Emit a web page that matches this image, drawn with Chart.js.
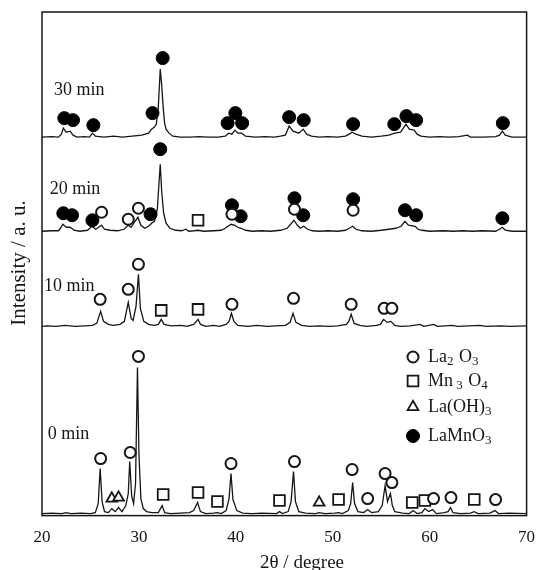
<!DOCTYPE html>
<html>
<head>
<meta charset="utf-8">
<script src="https://cdn.jsdelivr.net/npm/chart.js@4.4.1/dist/chart.umd.min.js"></script>
<style>
  html, body { margin: 0; padding: 0; background: #fff; }
  #wrap { width: 536px; height: 570px; }
</style>
</head>
<body>
<div id="wrap"><canvas id="xrdChart" width="536" height="570"></canvas></div>
<script>
// x axis (2theta, degree)
const xTicks = [20, 30, 40, 50, 60, 70];

// patterns, bottom to top, and the vertical offset of each baseline (a.u.)
const patternNames = ['0 min', '10 min', '20 min', '30 min'];
const baselineOffsets = [2, 189, 284, 378];
const nameX = [20.6, 20.2, 20.8, 21.25];
const nameY = [79, 40, 42, 47];

// traces: [2theta, intensity above baseline]
const trace0 = [[20,0],[21,0.5],[22,0],[22.5,1],[23,0],[24,0.5],[25,0],[25.5,1],[25.8,10],[26.0,45],[26.2,12],[26.45,2],[26.85,1],[27.2,5],[27.55,2],[27.9,6],[28.25,2],[28.65,8],[28.9,20],[29.05,52],[29.25,18],[29.45,10],[29.65,30],[29.85,146],[30.0,60],[30.2,15],[30.45,5],[30.8,2],[31.3,1],[32.0,1],[32.4,8],[32.65,1],[33.3,0],[34.3,0.5],[35.2,1],[35.65,3],[36.05,11],[36.35,2],[36.9,0],[37.7,0.5],[38.1,1],[38.5,0],[39.0,3],[39.3,15],[39.5,40],[39.7,14],[40.1,3],[40.7,0.5],[41.7,0],[42.7,0.5],[44.2,0],[44.5,2],[44.8,0],[45.4,2],[45.7,12],[45.95,42],[46.15,12],[46.5,2],[47.2,0.5],[48.2,0],[48.6,1],[49.2,0],[50.2,0.5],[50.6,1],[51.0,0],[51.6,3],[51.85,10],[52.05,31],[52.25,10],[52.6,2],[53.2,1],[53.6,4],[54.0,1],[54.7,2],[55.1,8],[55.4,28],[55.65,12],[55.95,20],[56.15,8],[56.4,2],[57.2,0.5],[57.9,0],[58.3,3],[58.7,0],[59.2,1],[59.5,5],[59.9,2],[60.3,4],[60.7,0],[61.5,1],[61.9,2],[62.15,6],[62.4,1],[63.2,0],[64.2,0.5],[64.6,2],[65.0,0],[66.2,0.5],[66.75,3],[67.1,0],[68.2,0.5],[70,0]];
const trace10 = [[20,0],[20.5,0.5],[21.4,0],[22.4,1],[23.4,0],[24.4,0.5],[25.2,1],[25.65,3],[26.05,15],[26.35,5],[26.85,2],[27.35,1],[28.05,2],[28.5,5],[28.9,24],[29.2,8],[29.4,6],[29.7,20],[29.95,52],[30.15,18],[30.5,5],[31.0,2],[31.6,1],[32.0,2],[32.3,7],[32.6,2],[33.3,0.5],[34.3,1],[34.95,0],[35.65,2],[36.1,7],[36.35,2],[36.9,0],[37.7,1],[38.3,0],[39.0,2],[39.3,5],[39.55,13],[39.8,5],[40.2,1],[41.2,0],[42.2,1],[43.2,0],[44.1,0.5],[45.1,1],[45.6,4],[45.9,13],[46.2,4],[46.8,1],[47.6,0],[48.6,0.5],[49.6,0],[50.5,0.5],[51.4,2],[51.65,5],[51.9,12],[52.2,3],[52.8,1],[53.5,0],[54.5,1],[54.9,2],[55.25,7],[55.6,4],[56.0,5],[56.4,1],[57,0],[58,0.5],[59.0,2],[59.4,0],[60.4,2],[60.8,0],[62.3,1],[62.9,0],[65.2,1],[65.8,0],[67.3,0.5],[68.3,0],[70,0.5]];
const trace20 = [[20,0],[21,0.5],[21.7,0.5],[21.9,3],[22.15,7],[22.5,4],[22.9,4],[23.3,1],[23.9,0],[24.7,1],[25.15,5],[25.55,2],[25.85,4],[26.15,6],[26.45,2],[27.0,1],[27.8,0.5],[28.45,2],[28.9,6],[29.2,4],[29.6,10],[29.9,14],[30.2,6],[30.6,3],[31.0,5],[31.3,8],[31.6,10],[31.9,22],[32.05,45],[32.2,67],[32.35,40],[32.55,18],[32.8,8],[33.2,3],[33.8,1],[34.4,0.5],[34.85,2],[35.15,0],[35.7,0.5],[36.1,1],[36.7,0],[37.7,0.5],[38.5,1],[38.9,3],[39.5,7],[39.9,6],[40.2,4],[40.55,3],[41.0,1],[41.7,0],[42.7,0.5],[43.6,0],[44.6,1],[45.3,3],[46.0,11],[46.35,6],[46.65,3],[47.0,5],[47.4,2],[47.9,0.5],[48.6,0],[49.5,0.5],[50.5,0],[51.3,1],[51.7,3],[52.05,5],[52.4,2],[53,0.5],[54,0],[55,1],[55.8,2],[56.5,3],[57.05,5],[57.45,10],[57.8,6],[58.5,5],[58.8,2],[59.2,1],[60,0],[61.4,0.5],[62.4,0],[63.4,0.5],[64.4,0],[65.4,0.5],[66.8,0],[67.2,2],[67.5,4],[67.8,1],[68.5,0],[70,0]];
const trace30 = [[20,0],[21,0.5],[21.7,0],[22.0,3],[22.2,9],[22.5,5],[22.9,6],[23.2,2],[23.6,0],[24.4,0.5],[24.9,0],[25.2,4],[25.5,1],[26.4,0],[27.4,1],[28.3,0],[29.3,1],[30.3,2],[31.0,4],[31.3,8],[31.6,10],[31.8,13],[32.0,30],[32.2,68],[32.35,52],[32.5,30],[32.65,14],[32.8,8],[33.1,4],[33.5,1],[34.3,0],[35.3,0],[36.2,0.5],[37.2,0],[38.2,0],[38.9,1],[39.25,4],[39.6,3],[39.9,7],[40.2,4],[40.6,4],[41.0,1],[42,0],[43,0.5],[44,0],[44.6,1],[45.1,2],[45.5,11],[45.9,6],[46.5,4],[46.95,8],[47.3,3],[47.8,1],[48.6,0],[49.5,0.5],[50.5,0],[51.3,1],[51.7,3],[52.0,5],[52.4,3],[53.0,1],[54,0],[55,1],[55.8,2],[56.4,4],[57.0,5],[57.55,13],[57.9,8],[58.4,7],[58.7,3],[59.1,1],[60,0],[61,0.5],[62,0],[63,0.5],[63.9,2],[64.2,0],[65.5,0],[66.8,0.5],[67.2,2],[67.5,6],[67.8,2],[68.5,0],[70,0]];

// phase markers: [2theta, height above baseline]
const la2o3_0 = [[26.05,55],[29.1,61],[29.95,157],[39.5,50],[46.05,52],[52.0,44],[53.6,15],[55.4,40],[56.1,31],[60.4,15],[62.2,16],[66.8,14]];
const la2o3_10 = [[26.0,27],[28.9,37],[29.95,62],[39.6,22],[45.95,28],[51.9,22],[55.3,18],[56.1,18]];
const la2o3_20 = [[26.15,19],[28.9,12],[29.95,23],[39.6,17],[46.05,22],[52.1,21]];
const mn3o4_0 = [[32.5,19],[36.1,21],[38.1,12],[44.5,13],[50.6,14],[58.2,11],[59.5,13],[64.6,14]];
const mn3o4_10 = [[32.3,16],[36.1,17]];
const mn3o4_20 = [[36.1,11]];
const laoh3_0 = [[27.2,15],[27.9,16],[48.6,11]];
const lamno3_20 = [[22.2,18],[23.1,16],[25.2,11],[31.2,17],[32.2,82],[39.6,26],[40.5,15],[46.05,33],[46.95,16],[52.1,32],[57.45,21],[58.6,16],[67.5,13]];
const lamno3_30 = [[22.3,19],[23.2,17],[25.3,12],[31.4,24],[32.45,79],[39.15,14],[39.95,24],[40.65,14],[45.5,20],[47.0,17],[52.1,13],[56.35,13],[57.6,21],[58.6,17],[67.55,14]];

const serif = '"Liberation Serif", "DejaVu Serif", serif';
const ink = '#161616';

function lift(points, off) {
    return points.map(p => ({ x: p[0], y: p[1] + off }));
}

const traces = [trace0, trace10, trace20, trace30];
const datasets = [];

const openCircle = { pointStyle: 'circle', pointRadius: 5.5, borderWidth: 2, pointBackgroundColor: '#fff', pointBorderColor: ink };
const openSquare = { pointStyle: 'rect', pointRadius: 7.6, borderWidth: 1.8, pointBackgroundColor: '#fff', pointBorderColor: ink };
const openTriangle = { pointStyle: 'triangle', pointRadius: 6.2, borderWidth: 1.8, pointBackgroundColor: '#fff', pointBorderColor: ink };
const filledDot = { pointStyle: 'circle', pointRadius: 6.5, borderWidth: 1, pointBackgroundColor: '#000', pointBorderColor: '#000' };

function addMarkers(label, points, off, style) {
    datasets.push(Object.assign({
        label: label,
        data: lift(points, off),
        showLine: false,
        pointHoverRadius: 0,
        order: 0
    }, style));
}

addMarkers('La2O3', la2o3_0, baselineOffsets[0], openCircle);
addMarkers('La2O3', la2o3_10, baselineOffsets[1], openCircle);
addMarkers('La2O3', la2o3_20, baselineOffsets[2], openCircle);
addMarkers('Mn3O4', mn3o4_0, baselineOffsets[0], openSquare);
addMarkers('Mn3O4', mn3o4_10, baselineOffsets[1], openSquare);
addMarkers('Mn3O4', mn3o4_20, baselineOffsets[2], openSquare);
addMarkers('La(OH)3', laoh3_0, baselineOffsets[0], openTriangle);
addMarkers('LaMnO3', lamno3_20, baselineOffsets[2], filledDot);
addMarkers('LaMnO3', lamno3_30, baselineOffsets[3], filledDot);

traces.forEach((t, i) => {
    datasets.push({
        label: patternNames[i],
        data: lift(t, baselineOffsets[i]),
        showLine: true,
        borderColor: ink,
        borderWidth: 1.3,
        pointRadius: 0,
        tension: 0,
        order: 1
    });
});

// legend rows: text pieces, 'sub' pieces are subscripts
const legendRows = [
    { style: openCircle, parts: [['La', ''], ['2', 'sub'], [' O', ''], ['3', 'sub']] },
    { style: openSquare, parts: [['Mn', ''], [' 3', 'sub'], [' O', ''], ['4', 'sub']] },
    { style: openTriangle, parts: [['La(OH)', ''], ['3', 'sub']] },
    { style: filledDot, parts: [['LaMnO', ''], ['3', 'sub']] }
];

function marker(ctx, style, x, y) {
    ctx.save();
    ctx.fillStyle = style.pointBackgroundColor;
    ctx.strokeStyle = style.pointBorderColor;
    ctx.lineWidth = style.borderWidth;
    Chart.helpers.drawPoint(ctx, { pointStyle: style.pointStyle, radius: style.pointRadius, borderWidth: style.borderWidth, rotation: 0 }, x, y);
    ctx.restore();
}

const decorations = {
    id: 'decorations',
    afterDatasetsDraw(chart) {
        const ctx = chart.ctx;
        const a = chart.chartArea;
        const xs = chart.scales.x, ys = chart.scales.y;
        ctx.save();
        // frame
        ctx.strokeStyle = ink;
        ctx.lineWidth = 1.5;
        ctx.strokeRect(a.left, a.top, a.right - a.left, a.bottom - a.top);

        // pattern names
        ctx.fillStyle = ink;
        ctx.font = '18px ' + serif;
        ctx.textBaseline = 'middle';
        ctx.textAlign = 'left';
        patternNames.forEach((n, i) => {
            ctx.fillText(n, xs.getPixelForValue(nameX[i]), ys.getPixelForValue(nameY[i] + baselineOffsets[i]));
        });

        // legend
        legendRows.forEach((row, i) => {
            const y = a.top + [345, 369, 395, 424][i];
            marker(ctx, row.style, a.left + 371, y);
            let x = a.left + 386;
            row.parts.forEach(p => {
                const sub = p[1] === 'sub';
                ctx.font = (sub ? '13px ' : '18px ') + serif;
                ctx.fillStyle = ink;
                ctx.fillText(p[0], x, y + (sub ? 5 : 0));
                x += ctx.measureText(p[0]).width + (sub ? 1 : 0);
            });
        });

        // axis titles
        ctx.font = '19px ' + serif;
        ctx.textAlign = 'center';
        ctx.fillText('2\u03b8 / degree', a.left + 260, a.bottom + 47);
        ctx.font = '21px ' + serif;
        ctx.translate(19, a.top + 251);
        ctx.rotate(-Math.PI / 2);
        ctx.fillText('Intensity / a. u.', 0, 0);
        ctx.restore();
    }
};

new Chart(document.getElementById('xrdChart'), {
    type: 'scatter',
    data: { datasets: datasets },
    options: {
        responsive: false,
        animation: false,
        events: [],
        layout: { padding: { left: 42, right: 9, top: 12, bottom: 10 } },
        scales: {
            x: {
                type: 'linear',
                min: xTicks[0],
                max: xTicks[xTicks.length - 1],
                afterBuildTicks: axis => { axis.ticks = xTicks.map(v => ({ value: v })); },
                afterFit: axis => { axis.paddingLeft = 0; axis.paddingRight = 0; },
                ticks: { color: ink, padding: 12, font: { family: serif, size: 17 } },
                grid: { display: false, drawTicks: false },
                border: { display: false }
            },
            y: { display: false, min: 0, max: 503 }
        },
        plugins: {
            legend: { display: false },
            tooltip: { enabled: false }
        }
    },
    plugins: [decorations]
});
</script>
</body>
</html>
